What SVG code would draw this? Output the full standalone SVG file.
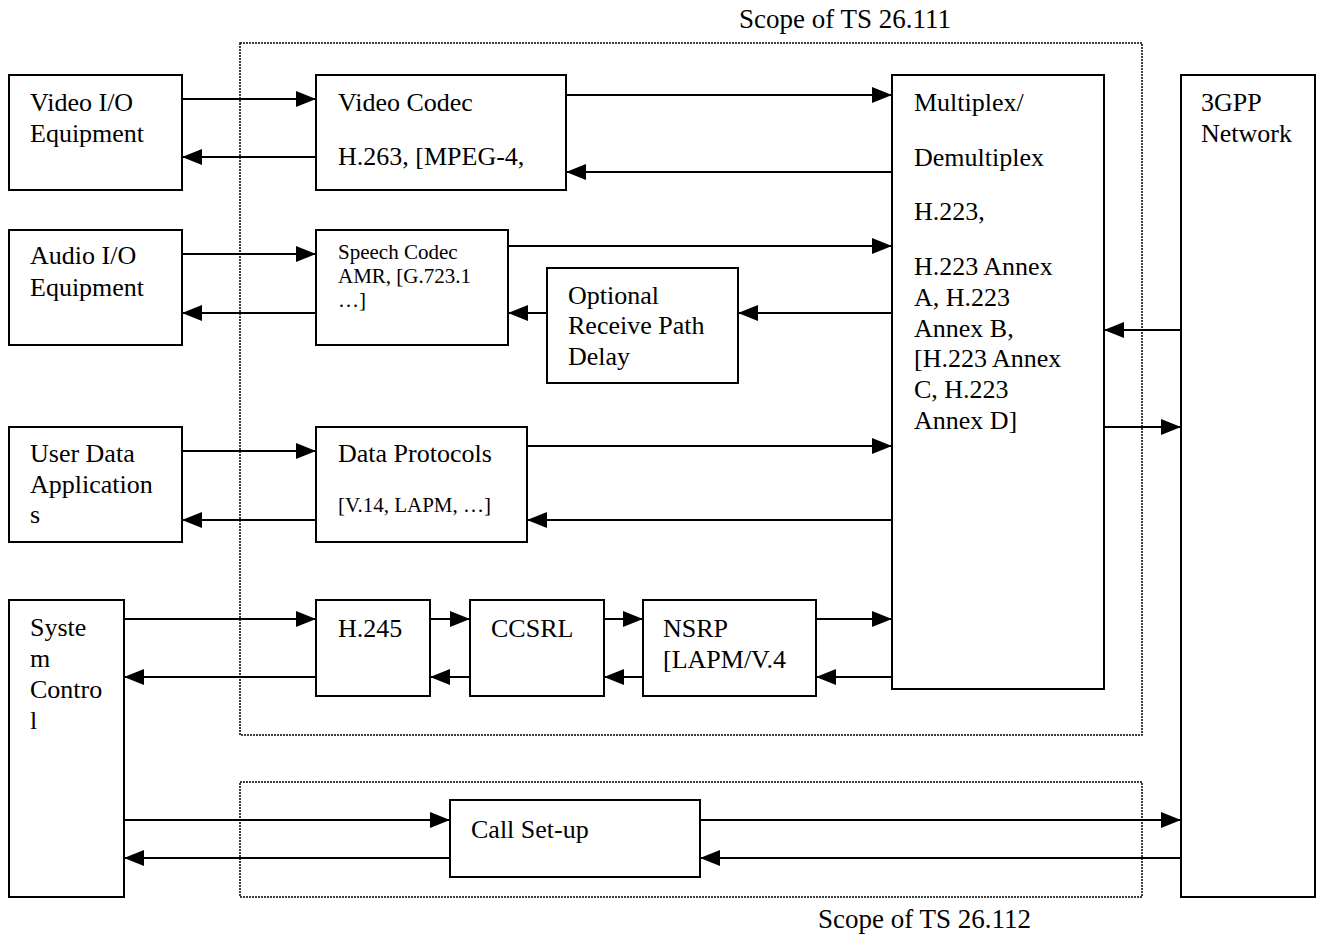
<svg xmlns="http://www.w3.org/2000/svg" width="1319" height="937" viewBox="0 0 1319 937">
  <defs>
    <marker id="arrow" markerUnits="userSpaceOnUse" markerWidth="20" markerHeight="16" refX="20" refY="8" orient="auto">
      <path d="M0,0 L20,8 L0,16 z" fill="#000"/>
    </marker>
    <style>
      .box { fill: #fff; stroke: #000; stroke-width: 2; }
      .scope { fill: none; stroke: #000; stroke-width: 1.5; stroke-dasharray: 2 1; }
      .link { stroke: #000; stroke-width: 2; fill: none; marker-end: url(#arrow); }
      text { font-family: "Liberation Serif", "Times New Roman", serif; font-size: 26px; fill: #000; }
      .small { font-size: 21px; }
      .label { font-size: 27px; }
    </style>
  </defs>

  <rect width="1319" height="937" fill="#fff"/>

  <!-- scope frames -->
  <g id="scope-26111">
    <rect class="scope" x="240" y="43" width="902" height="692"/>
    <text class="label" x="739" y="28">Scope of TS 26.111</text>
  </g>
  <g id="scope-26112">
    <rect class="scope" x="240" y="782" width="902" height="115"/>
    <text class="label" x="818" y="928">Scope of TS 26.112</text>
  </g>

  <!-- connectors -->
  <g id="connectors">
    <line class="link" x1="182" y1="99" x2="316" y2="99"/>
    <line class="link" x1="316" y1="157" x2="182" y2="157"/>
    <line class="link" x1="566" y1="95" x2="892" y2="95"/>
    <line class="link" x1="892" y1="172" x2="566" y2="172"/>

    <line class="link" x1="182" y1="254" x2="316" y2="254"/>
    <line class="link" x1="316" y1="313" x2="182" y2="313"/>
    <line class="link" x1="508" y1="246" x2="892" y2="246"/>
    <line class="link" x1="892" y1="313" x2="738" y2="313"/>
    <line class="link" x1="547" y1="313" x2="508" y2="313"/>

    <line class="link" x1="182" y1="451" x2="316" y2="451"/>
    <line class="link" x1="316" y1="520" x2="182" y2="520"/>
    <line class="link" x1="527" y1="446" x2="892" y2="446"/>
    <line class="link" x1="892" y1="520" x2="527" y2="520"/>

    <line class="link" x1="124" y1="619" x2="316" y2="619"/>
    <line class="link" x1="316" y1="677" x2="124" y2="677"/>
    <line class="link" x1="430" y1="619" x2="470" y2="619"/>
    <line class="link" x1="470" y1="677" x2="430" y2="677"/>
    <line class="link" x1="604" y1="619" x2="643" y2="619"/>
    <line class="link" x1="643" y1="677" x2="604" y2="677"/>
    <line class="link" x1="816" y1="619" x2="892" y2="619"/>
    <line class="link" x1="892" y1="677" x2="816" y2="677"/>

    <line class="link" x1="1181" y1="330" x2="1104" y2="330"/>
    <line class="link" x1="1104" y1="427" x2="1181" y2="427"/>

    <line class="link" x1="124" y1="820" x2="450" y2="820"/>
    <line class="link" x1="450" y1="858" x2="124" y2="858"/>
    <line class="link" x1="700" y1="820" x2="1181" y2="820"/>
    <line class="link" x1="1181" y1="858" x2="700" y2="858"/>
  </g>

  <!-- nodes -->
  <g id="video-io">
    <rect class="box" x="9" y="75" width="173" height="115"/>
    <text x="30" y="111">Video I/O</text>
    <text x="30" y="142">Equipment</text>
  </g>
  <g id="video-codec">
    <rect class="box" x="316" y="75" width="250" height="115"/>
    <text x="338" y="111">Video Codec</text>
    <text x="338" y="165">H.263, [MPEG-4,</text>
  </g>
  <g id="mux">
    <rect class="box" x="892" y="75" width="212" height="614"/>
    <text x="914" y="111">Multiplex/</text>
    <text x="914" y="166">Demultiplex</text>
    <text x="914" y="220">H.223,</text>
    <text x="914" y="275">H.223 Annex</text>
    <text x="914" y="306">A, H.223</text>
    <text x="914" y="337">Annex B,</text>
    <text x="914" y="367">[H.223 Annex</text>
    <text x="914" y="398">C, H.223</text>
    <text x="914" y="429">Annex D]</text>
  </g>
  <g id="network">
    <rect class="box" x="1181" y="75" width="134" height="822"/>
    <text x="1201" y="111">3GPP</text>
    <text x="1201" y="142">Network</text>
  </g>
  <g id="audio-io">
    <rect class="box" x="9" y="230" width="173" height="115"/>
    <text x="30" y="264">Audio I/O</text>
    <text x="30" y="296">Equipment</text>
  </g>
  <g id="speech-codec">
    <rect class="box" x="316" y="230" width="192" height="115"/>
    <text class="small" x="338" y="259">Speech Codec</text>
    <text class="small" x="338" y="283">AMR, [G.723.1</text>
    <text class="small" x="338" y="307">…]</text>
  </g>
  <g id="rx-delay">
    <rect class="box" x="547" y="268" width="191" height="115"/>
    <text x="568" y="304">Optional</text>
    <text x="568" y="334">Receive Path</text>
    <text x="568" y="365">Delay</text>
  </g>
  <g id="user-data">
    <rect class="box" x="9" y="427" width="173" height="115"/>
    <text x="30" y="462">User Data</text>
    <text x="30" y="493">Application</text>
    <text x="30" y="523">s</text>
  </g>
  <g id="data-protocols">
    <rect class="box" x="316" y="427" width="211" height="115"/>
    <text x="338" y="462">Data Protocols</text>
    <text class="small" x="338" y="512">[V.14, LAPM, …]</text>
  </g>
  <g id="system-control">
    <rect class="box" x="9" y="600" width="115" height="297"/>
    <text x="30" y="636">Syste</text>
    <text x="30" y="667">m</text>
    <text x="30" y="698">Contro</text>
    <text x="30" y="729">l</text>
  </g>
  <g id="h245">
    <rect class="box" x="316" y="600" width="114" height="96"/>
    <text x="338" y="637">H.245</text>
  </g>
  <g id="ccsrl">
    <rect class="box" x="470" y="600" width="134" height="96"/>
    <text x="491" y="637">CCSRL</text>
  </g>
  <g id="nsrp">
    <rect class="box" x="643" y="600" width="173" height="96"/>
    <text x="663" y="637">NSRP</text>
    <text x="663" y="668">[LAPM/V.4</text>
  </g>
  <g id="call-setup">
    <rect class="box" x="450" y="800" width="250" height="77"/>
    <text x="471" y="838">Call Set-up</text>
  </g>
</svg>
